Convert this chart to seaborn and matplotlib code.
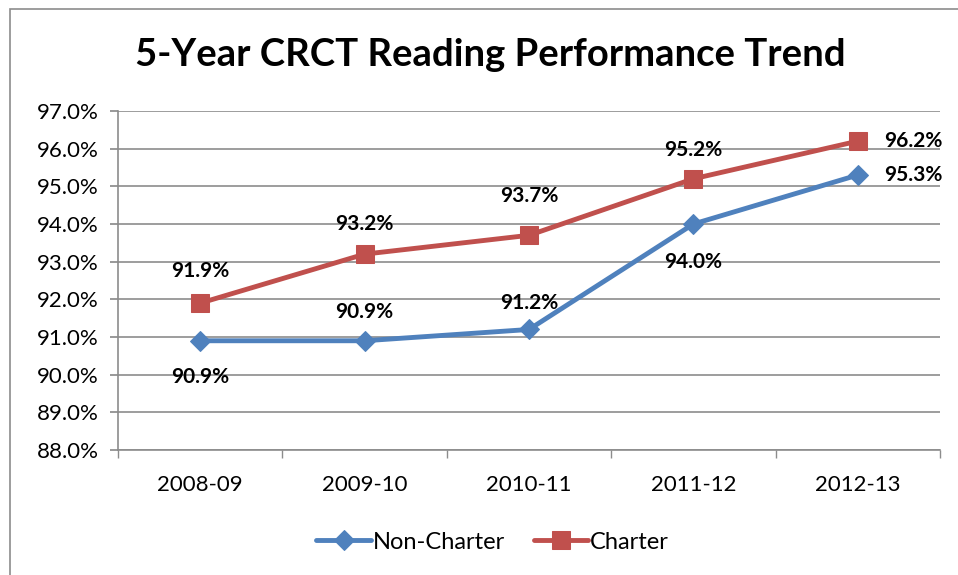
import numpy as np
import pandas as pd
import seaborn as sns
import matplotlib.pyplot as plt
from matplotlib.patches import Rectangle
from matplotlib.ticker import FuncFormatter, FixedLocator

years = ["2008-09", "2009-10", "2010-11", "2011-12", "2012-13"]
non_charter = [90.9, 90.9, 91.2, 94.0, 95.3]
charter = [91.9, 93.2, 93.7, 95.2, 96.2]

# label offsets in points (dx, dy) for each point
nc_offsets = [(0, -26), (0, 21), (0, 19), (0, -27), (40, 0)]
ch_offsets = [(0, 23), (0, 22), (0, 28), (0, 21), (40, 0)]

BLUE = "#4f81bd"
RED = "#c0504d"

sns.set_theme(style="white")
plt.rcParams['font.family'] = ['Lato', 'DejaVu Sans']
plt.rcParams['text.color'] = 'black'
plt.rcParams['xtick.labelcolor'] = 'black'
plt.rcParams['ytick.labelcolor'] = 'black'

df = pd.DataFrame({
    "year": years * 2,
    "idx": list(range(len(years))) * 2,
    "value": non_charter + charter,
    "series": ["Non-Charter"] * len(years) + ["Charter"] * len(years),
})

fig = plt.figure(figsize=(9.58, 5.75), dpi=100)
ax = fig.add_axes([118 / 958, 1 - 450 / 575, (940 - 118) / 958, (450 - 111) / 575])

# outer chart frame
fig.patches.append(Rectangle((10 / 958, -0.05), 1.2, 1 - 9 / 575 + 0.05,
                             transform=fig.transFigure, fill=False,
                             edgecolor="#8c8c8c", linewidth=1.2))

sns.lineplot(data=df[df.series == "Non-Charter"], x="idx", y="value", ax=ax,
             color=BLUE, linewidth=3.5, marker="D", markersize=10,
             markeredgecolor=BLUE, label="Non-Charter")
sns.lineplot(data=df[df.series == "Charter"], x="idx", y="value", ax=ax,
             color=RED, linewidth=3.5, marker="s", markersize=13,
             markeredgecolor=RED, label="Charter")

for i, v in enumerate(non_charter):
    ax.annotate(f"{v:.1f}%", (i, v), xytext=nc_offsets[i], textcoords="offset points",
                ha="center", va="center", fontsize=15, fontweight="bold")
for i, v in enumerate(charter):
    ax.annotate(f"{v:.1f}%", (i, v), xytext=ch_offsets[i], textcoords="offset points",
                ha="center", va="center", fontsize=15, fontweight="bold")

ax.set_xlim(-0.5, 4.5)
ax.set_ylim(88, 97)
ax.set_yticks(np.arange(88, 97.1, 1))
ax.yaxis.set_major_formatter(FuncFormatter(lambda v, p: f"{v:.1f}%"))
ax.set_xticks(range(len(years)))
ax.set_xticklabels(years)
ax.xaxis.set_minor_locator(FixedLocator(np.arange(-0.5, 4.6, 1)))
ax.tick_params(axis="x", which="major", length=0, pad=18, labelsize=16)
ax.tick_params(axis="x", which="minor", length=6, color="#8c8c8c", direction="out", bottom=True)
ax.tick_params(axis="y", length=6, color="#8c8c8c", direction="out", left=True, labelsize=16, pad=8)
ax.set_xlabel("")
ax.set_ylabel("")
ax.grid(axis="y", color="#8c8c8c", linewidth=1.2)
ax.set_axisbelow(True)
for s in ["top", "right"]:
    ax.spines[s].set_visible(False)
for s in ["left", "bottom"]:
    ax.spines[s].set_color("#8c8c8c")
    ax.spines[s].set_linewidth(1.2)

fig.text(490 / 958, 1 - 55 / 575, "5-Year CRCT Reading Performance Trend",
         ha="center", va="center", fontsize=27.5, fontweight="bold")

ax.legend(loc="center", bbox_to_anchor=(0.456, -0.272), ncol=2, frameon=False,
          fontsize=17, handlelength=2.3, columnspacing=1.2, handletextpad=0.1)

fig.savefig("out.png", dpi=100)
